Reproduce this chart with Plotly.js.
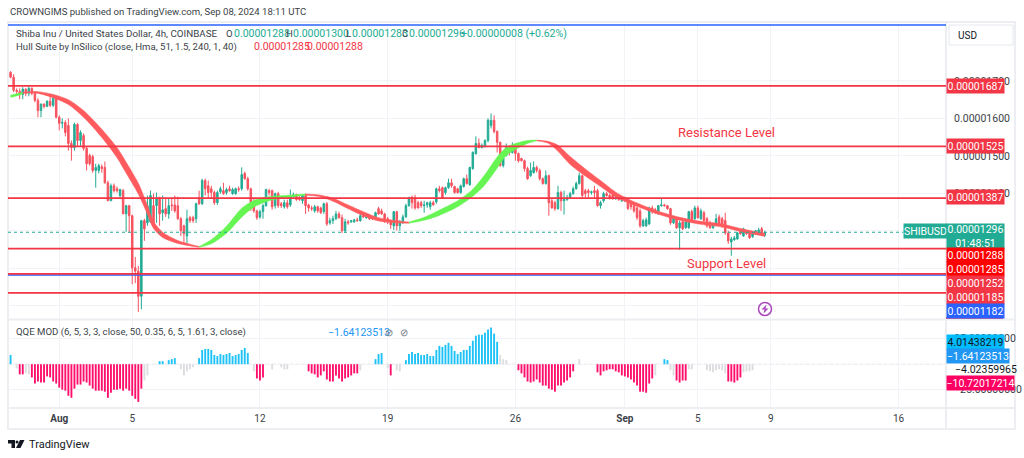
<!DOCTYPE html>
<html>
<head>
<meta charset="utf-8">
<script src="https://cdn.plot.ly/plotly-3.0.1.min.js"></script>
<style>
  html, body { margin: 0; padding: 0; background: #fff; }
  #plot { width: 1024px; height: 458px; }
</style>
</head>
<body>
<div id="plot"></div>
<script>
// prices are in units of 0.00000001 USD, one 4h candle per index
const opens = [
  1723,1710,1675,1672,1664,1678,1667,1680,1667,1648,1621,1638,1632,1646,1635,1654,1603,1587,1589,1581,
  1533,1522,1584,1541,1554,1520,1501,1498,1461,1461,1471,1469,1428,1380,1420,1412,1394,1407,1345,1367,
  1340,1201,1192,1125,1327,1321,1324,1367,1367,1388,1348,1359,1345,1369,1369,1367,1332,1313,1286,1335,
  1335,1332,1388,1372,1434,1420,1412,1402,1375,1404,1407,1402,1412,1399,1399,1412,1412,1453,1439,1412,
  1375,1353,1337,1351,1367,1407,1407,1367,1399,1372,1364,1375,1369,1391,1396,1388,1380,1394,1369,1361,
  1353,1364,1361,1351,1372,1321,1327,1332,1345,1335,1300,1324,1324,1324,1329,1327,1340,1335,1337,1335,
  1332,1359,1353,1345,1332,1324,1313,1351,1313,1324,1337,1367,1388,1388,1375,1375,1367,1369,1364,1375,
  1377,1412,1415,1402,1415,1428,1418,1412,1402,1418,1439,1423,1466,1506,1533,1522,1525,1541,1581,1595,
  1565,1536,1474,1501,1522,1509,1520,1506,1493,1487,1466,1447,1455,1469,1461,1439,1426,1447,1380,1375,
  1359,1402,1380,1383,1388,1399,1412,1426,1447,1407,1407,1402,1407,1407,1367,1380,1399,1394,1396,1385,
  1388,1380,1388,1385,1372,1367,1361,1353,1313,1313,1318,1361,1356,1345,1367,1369,1367,1359,1321,1335,
  1308,1324,1308,1308,1351,1332,1361,1332,1348,1332,1321,1308,1316,1337,1332,1327,1294,1270,1276,1278,
  1300,1286,1300,1294,1284,1292,1297,1305,1288
];
const highs = [
  1726,1718,1680,1680,1683,1680,1686,1683,1672,1654,1640,1640,1648,1662,1664,1656,1608,1600,1595,1600,
  1541,1589,1587,1568,1560,1525,1506,1503,1479,1479,1477,1485,1434,1426,1426,1418,1412,1412,1369,1369,
  1343,1230,1206,1329,1332,1394,1407,1399,1402,1391,1394,1388,1385,1385,1394,1391,1337,1316,1356,1340,
  1340,1375,1407,1439,1439,1434,1420,1407,1407,1418,1428,1415,1420,1415,1415,1418,1469,1458,1444,1415,
  1385,1356,1356,1372,1412,1412,1410,1402,1404,1377,1383,1383,1410,1402,1399,1394,1396,1399,1372,1367,
  1369,1367,1364,1375,1377,1335,1340,1353,1351,1343,1332,1329,1329,1332,1335,1345,1345,1343,1343,1340,
  1351,1364,1359,1348,1337,1327,1353,1353,1329,1343,1372,1391,1394,1396,1380,1380,1380,1377,1380,1380,
  1415,1420,1418,1418,1439,1439,1420,1415,1423,1442,1450,1471,1512,1552,1546,1533,1544,1600,1613,1608,
  1568,1538,1506,1533,1528,1536,1525,1509,1495,1490,1471,1482,1485,1474,1466,1442,1461,1450,1385,1380,
  1420,1407,1407,1396,1404,1418,1431,1455,1450,1412,1412,1407,1420,1412,1380,1404,1404,1399,1407,1394,
  1394,1391,1391,1388,1375,1372,1364,1359,1332,1335,1364,1367,1361,1369,1385,1372,1369,1361,1340,1337,
  1327,1327,1327,1353,1356,1367,1367,1359,1353,1337,1327,1321,1345,1343,1337,1348,1300,1284,1286,1297,
  1302,1308,1302,1300,1297,1302,1308,1310,1300
];
const lows = [
  1707,1670,1664,1651,1651,1659,1659,1662,1643,1603,1603,1627,1630,1630,1630,1600,1568,1573,1552,1514,
  1487,1514,1525,1525,1514,1461,1474,1455,1415,1453,1455,1426,1380,1380,1402,1402,1388,1345,1297,1294,
  1157,1160,1083,1090,1273,1313,1321,1318,1321,1313,1327,1337,1332,1353,1348,1329,1286,1265,1265,1321,
  1321,1321,1369,1369,1394,1385,1385,1369,1369,1399,1396,1396,1404,1396,1396,1404,1407,1436,1407,1353,
  1348,1329,1332,1332,1364,1394,1356,1359,1361,1361,1359,1359,1364,1388,1380,1380,1372,1345,1351,1353,
  1348,1348,1345,1345,1313,1316,1318,1329,1332,1294,1294,1316,1321,1321,1324,1324,1335,1332,1329,1329,
  1329,1343,1343,1321,1318,1305,1302,1300,1300,1318,1335,1364,1359,1356,1359,1361,1348,1361,1356,1367,
  1372,1402,1385,1396,1412,1415,1399,1399,1399,1415,1423,1420,1463,1503,1520,1520,1522,1536,1573,1560,
  1509,1471,1469,1498,1501,1506,1487,1482,1485,1458,1436,1444,1453,1455,1434,1423,1423,1340,1359,1353,
  1356,1353,1343,1380,1385,1396,1410,1423,1388,1388,1388,1396,1388,1364,1359,1375,1391,1383,1383,1383,
  1380,1377,1377,1356,1356,1348,1329,1308,1310,1310,1316,1345,1345,1343,1364,1364,1356,1316,1318,1305,
  1249,1302,1305,1305,1327,1329,1332,1329,1324,1308,1305,1305,1313,1313,1308,1289,1265,1233,1273,1276,
  1289,1284,1289,1278,1281,1289,1294,1286,1283
];
const closes = [
  1710,1675,1672,1664,1678,1667,1680,1667,1648,1621,1638,1632,1646,1635,1654,1603,1587,1589,1562,1533,
  1522,1584,1541,1562,1520,1479,1479,1461,1469,1474,1466,1428,1380,1420,1407,1407,1410,1345,1367,1340,
  1201,1192,1125,1327,1305,1367,1394,1321,1388,1345,1356,1345,1367,1367,1353,1332,1300,1292,1332,1327,
  1327,1372,1372,1434,1412,1402,1402,1375,1402,1412,1399,1410,1407,1410,1412,1410,1450,1439,1412,1375,
  1353,1335,1351,1367,1410,1402,1364,1399,1367,1367,1375,1364,1391,1396,1383,1383,1394,1367,1361,1359,
  1364,1353,1348,1372,1318,1327,1332,1345,1335,1300,1324,1321,1327,1329,1327,1340,1337,1337,1332,1332,
  1348,1345,1345,1327,1324,1316,1351,1313,1324,1337,1367,1388,1375,1361,1361,1367,1369,1375,1375,1369,
  1412,1407,1388,1415,1428,1420,1402,1402,1420,1439,1426,1469,1509,1533,1522,1528,1541,1595,1595,1565,
  1536,1474,1501,1522,1509,1528,1506,1487,1487,1466,1439,1461,1469,1461,1439,1426,1447,1375,1361,1359,
  1402,1380,1383,1388,1399,1412,1426,1447,1394,1399,1402,1404,1402,1367,1375,1399,1394,1388,1385,1388,
  1383,1388,1383,1359,1364,1353,1335,1313,1327,1329,1361,1351,1348,1367,1369,1367,1359,1321,1335,1308,
  1321,1305,1324,1351,1329,1361,1335,1353,1327,1313,1308,1318,1332,1318,1313,1294,1273,1278,1281,1294,
  1292,1305,1292,1281,1294,1300,1302,1289,1296
];

// Hull band, slices of index / upper edge / lower edge
const hullGreenA = { idx: [0,2,4], up: [1662,1666,1669], lo: [1656,1660,1665] };
const hullRedA = {
  idx: [4,8,13,19,24,30,35,38,42,45,47,50,55,62],
  up: [1670,1672,1666,1650,1621,1571,1522,1483,1427,1368,1325,1296,1274,1258],
  lo: [1667,1668,1658,1637,1603,1549,1495,1454,1398,1344,1306,1282,1266,1256],
};
const hullGreenB = {
  idx: [62,66,71,76,80,85,90,97],
  up: [1258,1276,1312,1360,1381,1391,1394,1398],
  lo: [1256,1265,1293,1336,1363,1380,1388,1395],
};
const hullRedB = {
  idx: [97,101,106,111,116,121,127,131],
  up: [1398,1396,1387,1369,1351,1335,1327,1323],
  lo: [1395,1392,1379,1359,1340,1326,1321,1320],
};
const hullGreenC = {
  idx: [131,136,141,147,152,156,160,163,166,170,173],
  up: [1323,1336,1355,1380,1411,1450,1497,1522,1533,1541,1542],
  lo: [1320,1328,1341,1364,1392,1423,1467,1501,1517,1533,1540],
};
const hullRedC = {
  idx: [173,177,180,184,189,194,199,203,207,213,220,227,234,240,248],
  up: [1542,1538,1528,1498,1465,1434,1403,1385,1371,1352,1336,1325,1318,1306,1293],
  lo: [1540,1533,1512,1477,1446,1418,1390,1375,1362,1344,1328,1317,1310,1298,1285],
};

const qqeValues = [
  9,0,-4,-10,-10,-9,-10,-13,-19,-17,-18,-18,-12,-13,-17,-19,-23,-25,-26,-31,
  -33,-24,-20,-20,-17,-18,-21,-24,-26,-26,-26,-27,-33,-28,-25,-25,-24,-26,-24,-26,
  -31,-34,-37,-24,-16,-11,0,0,0,3,3,0,4,5,6,0,-5,-11,-7,-5,
  -3,0,6,14,15,15,14,9,8,10,9,10,11,8,9,10,14,16,11,0,
  -7,-14,-16,-13,0,0,-5,0,0,-3,-5,-5,0,0,0,0,0,0,-7,-9,
  -10,-13,-11,-7,-15,-17,-17,-11,-14,-17,-14,-13,-11,-9,-9,-6,0,0,0,0,
  5,10,11,0,-4,-11,0,-6,-7,0,4,10,12,10,11,9,9,10,8,8,
  14,18,17,19,21,18,13,10,12,14,14,18,23,28,29,29,31,34,36,30,
  22,9,5,4,0,0,0,-6,-9,-13,-17,-18,-17,-15,-18,-21,-21,-24,-25,-27,
  -21,-21,-18,-16,-13,-7,0,5,0,0,0,0,0,-8,-11,-7,-6,-5,-5,-7,
  -8,-11,-12,-13,-15,-18,-21,-27,-27,-28,-19,-14,-11,0,0,5,4,-6,-11,-16,
  -18,-16,-16,-5,-5,0,0,0,0,-6,-7,-8,-6,-5,-6,-9,-17,-17,-18,-16,
  -13,-8,-7,-7,-6,0,0,0,0
];
const qqeGrayBars = [2,5,6,44,45,56,57,58,59,60,80,86,89,90,91,115,124,127,128,161,162,163,187,212,217,218,223,224,229,230,231,232,233,234,235,241,242,243,244];

const levelPrices = [1687,1525,1387,1252,1185,1134];
const bluePrices = [1182,1849];
const lastPrice = 1296;

const timeTickIdx = [16,40,82,124,166,202,226,250,292];
const timeTickText = ["<b>Aug</b>","5","12","19","26","<b>Sep</b>","5","9","16"];
const priceTicks = [1700,1600,1500,1400,1300,1200,1100];
const priceTickText = ["0.00001700","0.00001600","0.00001500","0.00001400","","",""];
const qqeTicks = [25,0,-25];
const qqeTickText = ["25.00000000","","−25.00000000"];

const RED = "#f23645";
const BLUE = "#2962ff";
const TEAL = "#22ab94";
const UP = "#22ab94";
const DOWN = "#f7525f";
const HULL_GREEN = "#66f552";
const HULL_RED = "#ff5a5e";
const INK = "#3b3f48";
const GRID = "#f2f3f6";
const FONT = "Roboto, sans-serif";
const NUM_FONT = "'Liberation Sans Narrow', Roboto, sans-serif";
const NUM_SIZE = 10.5;
const TXT_SIZE = 9.6;

const W = 1024;
const H = 458;
const px = (x) => x / W;
const py = (y) => (H - y) / H;

function pxPath(points) {
  return "M" + points.map((p) => `${px(p[0])},${py(p[1])}`).join("L") + "Z";
}

function hullTraces(band, color) {
  const base = {
    x: band.idx,
    mode: "lines",
    line: { color: color, width: 0.5, shape: "spline", smoothing: 0.8 },
    xaxis: "x",
    yaxis: "y",
    hoverinfo: "skip",
  };
  return [
    { ...base, y: band.up },
    { ...base, y: band.lo, fill: "tonexty", fillcolor: color },
  ];
}

const candleIdx = closes.map((_, i) => i);

const traces = [
  {
    type: "candlestick",
    x: candleIdx,
    open: opens,
    high: highs,
    low: lows,
    close: closes,
    increasing: { line: { color: UP, width: 1 }, fillcolor: UP },
    decreasing: { line: { color: DOWN, width: 1 }, fillcolor: DOWN },
    whiskerwidth: 0,
    xaxis: "x",
    yaxis: "y",
    hoverinfo: "skip",
  },
  ...hullTraces(hullGreenA, HULL_GREEN),
  ...hullTraces(hullRedA, HULL_RED),
  ...hullTraces(hullGreenB, HULL_GREEN),
  ...hullTraces(hullRedB, HULL_RED),
  ...hullTraces(hullGreenC, HULL_GREEN),
  ...hullTraces(hullRedC, HULL_RED),
  {
    type: "bar",
    x: candleIdx,
    y: qqeValues,
    width: 0.62,
    marker: {
      color: qqeValues.map((v, i) => {
        if (qqeGrayBars.includes(i)) return "#dcdde0";
        return v > 0 ? "#1fc2f7" : "#ff0f6c";
      }),
      line: { width: 0 },
    },
    xaxis: "x",
    yaxis: "y2",
    hoverinfo: "skip",
  },
];

const frameLine = { color: "#eceef2", width: 2 };

const shapes = [
  // frame and pane separators
  { type: "rect", xref: "paper", yref: "paper", x0: px(8), x1: px(1015), y0: py(429), y1: py(22), line: frameLine, layer: "below" },
  { type: "line", xref: "paper", yref: "paper", x0: px(8), x1: px(1015), y0: py(319.5), y1: py(319.5), line: frameLine },
  { type: "line", xref: "paper", yref: "paper", x0: px(8), x1: px(1015), y0: py(408), y1: py(408), line: frameLine },
  { type: "line", xref: "paper", yref: "paper", x0: px(946), x1: px(946), y0: py(429), y1: py(22), line: frameLine },
  // last price and QQE zero
  { type: "line", xref: "paper", yref: "y", x0: px(8), x1: px(903), y0: lastPrice, y1: lastPrice, line: { color: TEAL, width: 1, dash: "dot" } },
  { type: "line", xref: "paper", yref: "y2", x0: px(8), x1: px(946), y0: 0, y1: 0, line: { color: "#d5d7dc", width: 1, dash: "dot" }, layer: "below" },
  // edge of the tag hidden below the blue one
  { type: "line", xref: "paper", yref: "paper", x0: px(946), x1: px(1003), y0: py(318), y1: py(318), line: { color: RED, width: 1.5 } },
];

bluePrices.forEach((p) => {
  shapes.push({ type: "line", xref: "paper", yref: "y", x0: px(8), x1: px(946), y0: p, y1: p, line: { color: BLUE, width: 1.5 } });
});
levelPrices.forEach((p) => {
  shapes.push({ type: "line", xref: "paper", yref: "y", x0: px(8), x1: px(946), y0: p, y1: p, line: { color: RED, width: 1.7 } });
});

// USD button
shapes.push({ type: "rect", xref: "paper", yref: "paper", x0: px(949), x1: px(1013), y0: py(45), y1: py(25), line: { color: "#e6e8ee", width: 1 }, fillcolor: "#fff" });

// alert icon
shapes.push({ type: "circle", xref: "paper", yref: "paper", x0: px(758.5), x1: px(771.5), y0: py(315.5), y1: py(302.5), line: { color: "#ab47bc", width: 1.5 } });
shapes.push({ type: "path", xref: "paper", yref: "paper", fillcolor: "#ab47bc", line: { width: 0 }, path: pxPath([[766.5,304.5],[761.5,309.5],[764.5,309.5],[763.5,313.5],[768.5,308.5],[765.5,308.5]]) });

// TradingView logo
shapes.push({ type: "path", xref: "paper", yref: "paper", fillcolor: "#131722", line: { width: 0 }, path: pxPath([[8,440],[15,440],[15,448],[11.5,448],[11.5,443.5],[8,443.5]]) });
shapes.push({ type: "circle", xref: "paper", yref: "paper", fillcolor: "#131722", line: { width: 0 }, x0: px(15.5), x1: px(18.5), y0: py(443.5), y1: py(440.5) });
shapes.push({ type: "path", xref: "paper", yref: "paper", fillcolor: "#131722", line: { width: 0 }, path: pxPath([[20,440],[24.5,440],[20.5,448],[16,448]]) });

function textAt(x, y, text, size, color, extra) {
  return {
    xref: "paper", yref: "paper", x: px(x), y: py(y),
    xanchor: "left", yanchor: "middle", showarrow: false,
    text: text, font: { family: FONT, size: size, color: color },
    ...extra,
  };
}

function numAt(x, y, text, color, extra) {
  const item = textAt(x, y, text, NUM_SIZE, color, extra);
  item.font.family = NUM_FONT;
  return item;
}

// colored price tags on the right scale
function tag(y, x1, h, text, bg, fg) {
  return numAt(946, y, text, fg || "#fff", {
    bgcolor: bg, width: x1 - 946, height: h, align: "center", borderpad: 0,
  });
}

const annotations = [
  textAt(8, 12, "CROWNGIMS published on TradingView.com, Sep 08, 2024 18:11 UTC", TXT_SIZE, INK),
  textAt(14, 33, "Shiba Inu / United States Dollar, 4h, COINBASE", 9.8, INK),
  textAt(224, 33, "O", TXT_SIZE, INK),
  numAt(232, 33, "0.00001288", TEAL),
  textAt(284, 33, "H", TXT_SIZE, INK),
  numAt(291, 33, "0.00001300", TEAL),
  textAt(344, 33, "L", TXT_SIZE, INK),
  numAt(350, 33, "0.00001283", TEAL),
  textAt(400, 33, "C", TXT_SIZE, INK),
  numAt(407, 33, "0.00001296", TEAL),
  numAt(459, 33, "+0.00000008 (+0.62%)", TEAL),
  textAt(14, 47, "Hull Suite by InSilico (close, Hma, 51, 1.5, 240, 1, 40)", TXT_SIZE, INK),
  numAt(252, 47, "0.00001285", RED),
  numAt(305, 47, "0.00001288", RED),
  textAt(14, 332, "QQE MOD (6, 5, 3, 3, close, 50, 0.35, 6, 5, 1.61, 3, close)", TXT_SIZE, INK),
  numAt(326, 332, "−1.64123513", "#2196f3"),
  textAt(383, 332, "⊘", 10, "#787b86"),
  textAt(398, 332, "⊘", 10, "#787b86"),
  textAt(676, 132, "Resistance Level", 13, RED),
  textAt(685, 263, "Support Level", 13, RED),
  textAt(956, 35, "USD", 10, "#131722"),
  textAt(27, 444, "TradingView", 11, "#131722"),
  tag(85.7, 1003, 14, "0.00001687", RED),
  tag(146, 1003, 14, "0.00001525", RED),
  tag(197, 1003, 14, "0.00001387", RED),
  numAt(903, 231, "SHIBUSD", "#fff", { bgcolor: TEAL, width: 43, height: 14, align: "center", borderpad: 0 }),
  tag(236, 1003, 25, "0.00001296<br>01:48:51", TEAL),
  tag(255, 1003, 14, "0.00001288", "#ff0000"),
  tag(269, 1003, 14, "0.00001285", "#ff0000"),
  tag(283, 1003, 14, "0.00001252", RED),
  tag(297, 1003, 14, "0.00001185", RED),
  tag(310.5, 1003, 14, "0.00001182", BLUE),
  tag(342, 1003, 14, "4.01438219", "#00bcff", "#131722"),
  tag(355.5, 1008, 14, "−1.64123513", "#2196f3"),
  numAt(953, 369, "−4.02359965", "#131722"),
  tag(383, 1013, 14, "−10.72017214", "#ff0062"),
];

const layout = {
  width: W,
  height: H,
  margin: { l: 0, r: 0, t: 0, b: 0 },
  paper_bgcolor: "#fff",
  plot_bgcolor: "#fff",
  showlegend: false,
  dragmode: false,
  font: { family: FONT, size: 10, color: "#131722" },
  xaxis: {
    domain: [px(8), px(946)],
    range: [-0.85, 307.6],
    anchor: "y2",
    tickmode: "array",
    tickvals: timeTickIdx,
    ticktext: timeTickText,
    ticks: "outside",
    ticklen: 1,
    tickcolor: "rgba(0,0,0,0)",
    showgrid: true,
    gridcolor: GRID,
    zeroline: false,
    showline: false,
    rangeslider: { visible: false },
    tickfont: { family: FONT, size: 10, color: INK },
  },
  yaxis: {
    domain: [py(319.5), py(24)],
    range: [1063, 1852],
    side: "right",
    anchor: "x",
    tickmode: "array",
    tickvals: priceTicks,
    ticktext: priceTickText,
    ticks: "outside",
    ticklen: 5,
    tickcolor: "rgba(0,0,0,0)",
    showgrid: true,
    gridcolor: GRID,
    zeroline: false,
    showline: false,
    tickfont: { family: NUM_FONT, size: NUM_SIZE, color: INK },
  },
  yaxis2: {
    domain: [py(408), py(320)],
    range: [-43, 43.4],
    side: "right",
    anchor: "x",
    tickmode: "array",
    tickvals: qqeTicks,
    ticktext: qqeTickText,
    ticks: "outside",
    ticklen: 5,
    tickcolor: "rgba(0,0,0,0)",
    showgrid: true,
    gridcolor: GRID,
    zeroline: false,
    showline: false,
    tickfont: { family: NUM_FONT, size: NUM_SIZE, color: INK },
  },
  shapes: shapes,
  annotations: annotations,
};

Plotly.newPlot("plot", traces, layout, { displayModeBar: false, staticPlot: true });
</script>
</body>
</html>
